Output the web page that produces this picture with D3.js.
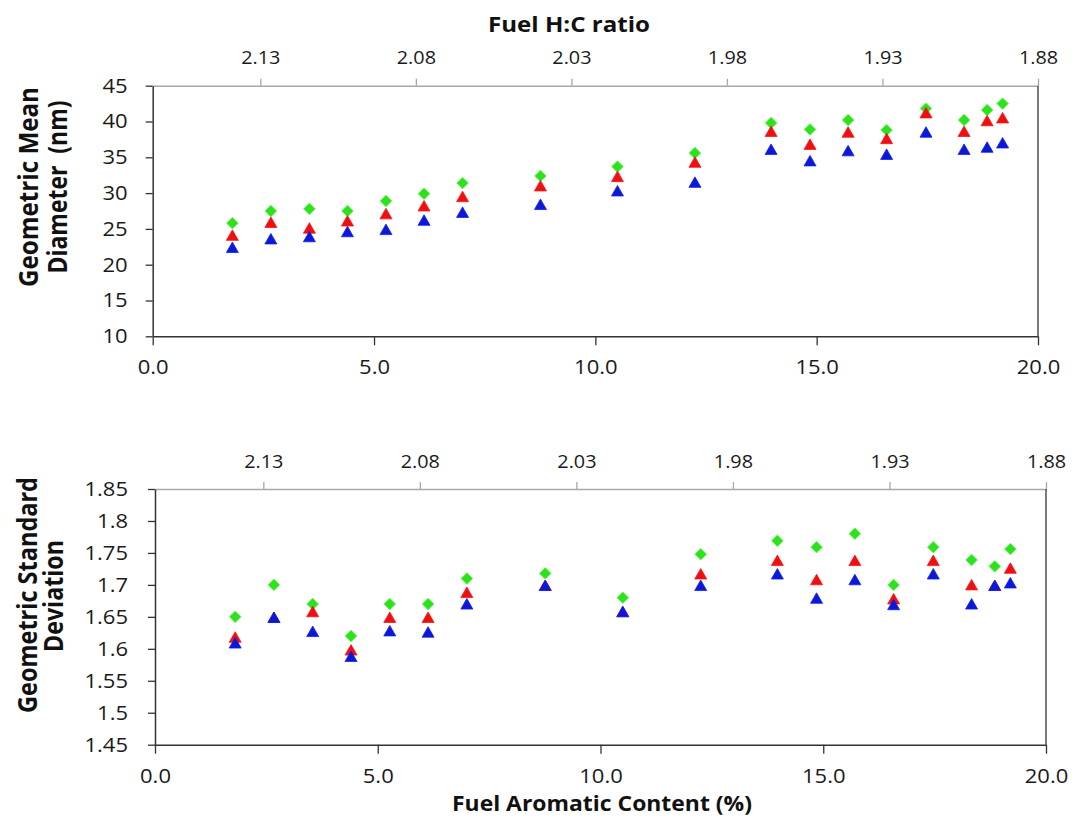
<!DOCTYPE html>
<html>
<head>
<meta charset="utf-8">
<script src="https://cdn.jsdelivr.net/npm/d3@7"></script>
<style>
  html, body { margin: 0; padding: 0; background: #fff; }
  svg { display: block; font-family: "Open Sans", "Noto Sans", sans-serif; }
</style>
</head>
<body>
<svg id="chart" width="1072" height="818"></svg>
<script>
// Fuel aromatic content (%) for each test fuel
const aromatic = [1.8, 2.67, 3.54, 4.4, 5.27, 6.13, 7.0, 8.76, 10.5, 12.25, 13.97, 14.85, 15.71, 16.58, 17.47, 18.33, 18.85, 19.2];

// Geometric mean diameter (nm)
const gmdGreen = [25.8, 27.5, 27.8, 27.5, 28.9, 29.9, 31.4, 32.4, 33.7, 35.6, 39.8, 38.9, 40.2, 38.8, 41.8, 40.2, 41.6, 42.5];
const gmdRed   = [24.1, 25.9, 25.1, 26.1, 27.1, 28.2, 29.5, 31.0, 32.3, 34.3, 38.6, 36.8, 38.5, 37.6, 41.2, 38.6, 40.1, 40.5];
const gmdBlue  = [22.4, 23.6, 23.9, 24.6, 24.9, 26.2, 27.3, 28.4, 30.3, 31.5, 36.1, 34.5, 35.9, 35.4, 38.5, 36.1, 36.4, 37.0];

// Geometric standard deviation
const gsdGreen = [1.650, 1.700, 1.670, 1.620, 1.670, 1.670, 1.710, 1.718, 1.680, 1.748, 1.769, 1.759, 1.780, 1.700, 1.759, 1.739, 1.729, 1.756];
const gsdRed   = [1.618, 1.649, 1.658, 1.598, 1.649, 1.649, 1.688, 1.699, 1.658, 1.717, 1.738, 1.708, 1.738, 1.678, 1.738, 1.700, 1.699, 1.726];
const gsdBlue  = [1.609, 1.649, 1.627, 1.588, 1.628, 1.626, 1.670, 1.699, 1.658, 1.699, 1.717, 1.679, 1.708, 1.669, 1.717, 1.670, 1.699, 1.703];

// Axis ticks
const aromaticTicks = [0, 5, 10, 15, 20];
const hcTicks = [2.13, 2.08, 2.03, 1.98, 1.93, 1.88];
const gmdTicks = [10, 15, 20, 25, 30, 35, 40, 45];
const gsdTicks = [1.45, 1.5, 1.55, 1.6, 1.65, 1.7, 1.75, 1.8, 1.85];

const COLORS = { green: "#2ee01e", red: "#ec1010", blue: "#0c18d2" };

const svg = d3.select("#chart");

function markerPath(shape) {
  const p = d3.path();
  if (shape === "diamond") {
    p.moveTo(0, -5.7); p.lineTo(5.7, 0); p.lineTo(0, 5.7); p.lineTo(-5.7, 0); p.closePath();
  } else {
    p.moveTo(0, -5.5); p.lineTo(6, 5); p.lineTo(-6, 5); p.closePath();
  }
  return p.toString();
}

// widen tick labels slightly (the chart's lettering is set a little wide)
function styleTickText(sel, size) {
  sel.attr("font-size", size).attr("fill", "#1a1a1a")
    .attr("font-family", "'Open Sans', sans-serif")
    .each(function () {
      const w = this.getComputedTextLength();
      d3.select(this).attr("textLength", w * 1.1).attr("lengthAdjust", "spacingAndGlyphs");
    });
}

function panel(cfg) {
  const x = d3.scaleLinear().domain([0, 20]).range([cfg.left, cfg.right]);
  const hc = d3.scaleLinear().domain([2.1646, 1.88]).range([cfg.left, cfg.right]);
  const y = d3.scaleLinear().domain(cfg.yDomain).range([cfg.bottom, cfg.top]);

  const g = svg.append("g");

  // top (H:C) axis, light grey
  const topAx = g.append("g").attr("transform", `translate(0,${cfg.top})`)
    .call(d3.axisTop(hc).tickValues(hcTicks).tickFormat(d3.format(".2f"))
      .tickSize(7).tickSizeOuter(0).tickPadding(cfg.topPad));
  topAx.select(".domain").attr("stroke", "#a8a8a8").attr("stroke-width", 1.5);
  topAx.selectAll(".tick line").attr("stroke", "#a8a8a8").attr("stroke-width", 1.3);
  styleTickText(topAx.selectAll(".tick text"), 18);

  // right frame line
  g.append("line").attr("x1", cfg.right).attr("x2", cfg.right)
    .attr("y1", cfg.top).attr("y2", cfg.bottom)
    .attr("stroke", "#505050").attr("stroke-width", 1.5);

  // left axis
  const leftAx = g.append("g").attr("transform", `translate(${cfg.left},0)`)
    .call(d3.axisLeft(y).tickValues(cfg.yTicks).tickFormat(cfg.yFormat)
      .tickSize(7).tickSizeOuter(0).tickPadding(cfg.leftPad));
  leftAx.select(".domain").attr("stroke", "#333").attr("stroke-width", 1.5);
  leftAx.selectAll(".tick line").attr("stroke", "#333").attr("stroke-width", 1.3);
  styleTickText(leftAx.selectAll(".tick text"), 20);

  // bottom axis
  const botAx = g.append("g").attr("transform", `translate(0,${cfg.bottom})`)
    .call(d3.axisBottom(x).tickValues(aromaticTicks).tickFormat(d3.format(".1f"))
      .tickSize(9).tickSizeOuter(0).tickPadding(15));
  botAx.select(".domain").attr("stroke", "#333").attr("stroke-width", 1.5);
  botAx.selectAll(".tick line").attr("stroke", "#333").attr("stroke-width", 1.3);
  styleTickText(botAx.selectAll(".tick text"), 20);

  // markers: green diamonds, red triangles, blue triangles (drawn in that order)
  const series = [
    { vals: cfg.green, color: COLORS.green, shape: "diamond" },
    { vals: cfg.red, color: COLORS.red, shape: "triangle" },
    { vals: cfg.blue, color: COLORS.blue, shape: "triangle" }
  ];
  series.forEach(s => {
    g.append("g").selectAll("path")
      .data(aromatic.map((a, i) => ({ a, v: s.vals[i] })))
      .join("path")
      .attr("d", markerPath(s.shape))
      .attr("transform", d => `translate(${x(d.a)},${y(d.v)})`)
      .attr("fill", s.color)
      .attr("stroke", d3.color(s.color).brighter(0.6))
      .attr("stroke-width", 0.8);
  });

  // rotated y-axis title (two lines)
  cfg.yTitle.forEach(t => {
    g.append("text")
      .attr("transform", `translate(${t.x},${t.y}) rotate(-90)`)
      .attr("text-anchor", "middle")
      .attr("xml:space", "preserve")
      .style("white-space", "pre")
      .attr("font-size", 26).attr("font-weight", 700).attr("fill", "#111")
      .attr("textLength", t.len).attr("lengthAdjust", "spacingAndGlyphs")
      .text(t.text);
  });
}

panel({
  left: 152.7, right: 1038, top: 85.7, bottom: 336.3,
  yDomain: [10, 45], yTicks: gmdTicks, yFormat: d3.format("d"),
  topPad: 15, leftPad: 18,
  green: gmdGreen, red: gmdRed, blue: gmdBlue,
  yTitle: [
    { text: "Geometric Mean", x: 38, y: 187, len: 200 },
    { text: "Diameter  (nm)", x: 67, y: 187, len: 173 }
  ]
});

panel({
  left: 155, right: 1046, top: 489, bottom: 744.7,
  yDomain: [1.45, 1.85], yTicks: gsdTicks, yFormat: d => d3.format(".2f")(d).replace(/0$/, "").replace(/\.0$/, ""),
  topPad: 14, leftPad: 20,
  green: gsdGreen, red: gsdRed, blue: gsdBlue,
  yTitle: [
    { text: "Geometric Standard", x: 37, y: 595, len: 236 },
    { text: "Deviation", x: 63, y: 596, len: 112 }
  ]
});

// shared titles
svg.append("text").attr("x", 569).attr("y", 32).attr("text-anchor", "middle")
  .attr("font-size", 21).attr("font-weight", 700).attr("fill", "#111")
  .attr("textLength", 162).attr("lengthAdjust", "spacingAndGlyphs")
  .text("Fuel H:C ratio");

svg.append("text").attr("x", 602).attr("y", 811).attr("text-anchor", "middle")
  .attr("font-size", 21).attr("font-weight", 700).attr("fill", "#111")
  .attr("textLength", 300).attr("lengthAdjust", "spacingAndGlyphs")
  .text("Fuel Aromatic Content (%)");
</script>
</body>
</html>
